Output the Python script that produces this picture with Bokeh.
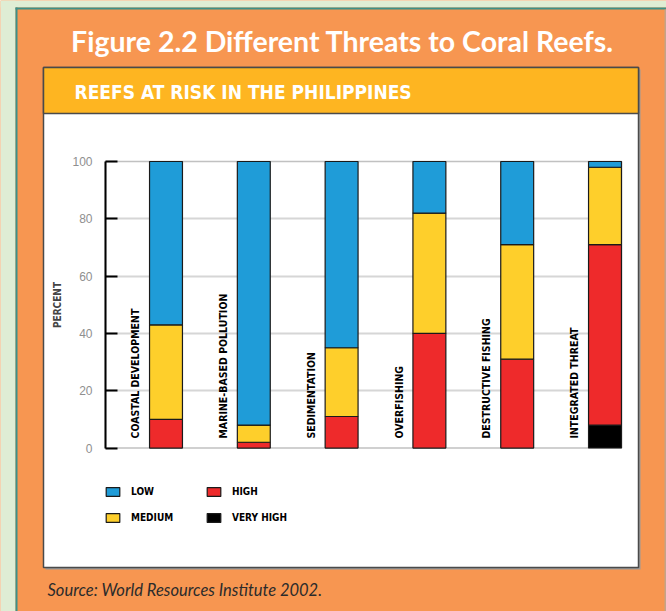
import math
from bokeh.plotting import figure
from bokeh.models import (ColumnDataSource, BoxAnnotation, Label, Legend, LegendItem,
                          Range1d, FixedTicker, LinearAxis, Grid)
from bokeh.core.properties import value
from bokeh.embed import file_html
from bokeh.resources import INLINE

# ---- data ----
categories = ["COASTAL DEVELOPMENT", "MARINE-BASED POLLUTION", "SEDIMENTATION",
              "OVERFISHING", "DESTRUCTIVE FISHING", "INTEGRATED THREAT"]
very_high = [0, 0, 0, 0, 0, 8]
high = [10, 2, 11, 40, 31, 63]
medium = [33, 6, 24, 42, 40, 27]
low = [57, 92, 65, 18, 29, 2]
levels = ["very_high", "high", "medium", "low"]
legend_labels = {"low": "LOW", "medium": "MEDIUM", "high": "HIGH", "very_high": "VERY HIGH"}
y_ticks = [0, 20, 40, 60, 80, 100]
grid_ticks = [20, 40, 60, 80]

title_text = "Figure 2.2 Different Threats to Coral Reefs."
subtitle_text = "REEFS AT RISK IN THE PHILIPPINES"
source_text = "Source: World Resources Institute 2002."
y_label = "PERCENT"

# ---- styles ----
COLORS = {"low": "#1f9cd8", "medium": "#fecf2b", "high": "#ee2a2b", "very_high": "#000000"}
ORANGE = "#f79651"
GREEN = "#dfedd4"
TEAL = "#3e9088"
BAND = "#feb521"
NARROW = "'Liberation Sans Narrow', 'DejaVu Sans Condensed', 'Arial Narrow', sans-serif"
TITLE_FONT = "Lato"

W, H = 666, 611
# page-pixel <-> data mapping (frame covers the whole page)
X0, SX = 165.5, 87.8        # pixel of first bar centre, pixels per category
Y0, SY = 447.5, 2.865       # pixel of 0 %, pixels per percent
def dx(px): return (px - X0) / SX
def dy(py): return (Y0 - py) / SY

xs = list(range(len(categories)))
src = ColumnDataSource(dict(x=xs, cat=categories, very_high=very_high, high=high,
                            medium=medium, low=low,
                            label_x=[x - 0.35 for x in xs],
                            label_y=[3.3] * len(xs)))

p = figure(width=W, height=H, output_backend="svg", toolbar_location=None,
           x_range=Range1d(dx(0), dx(W)), y_range=Range1d(dy(H), dy(0)),
           x_axis_location=None, y_axis_location=None, title_location=None,
           min_border=0)
p.outline_line_color = None
p.background_fill_color = ORANGE
p.border_fill_color = ORANGE
p.xgrid.visible = False
p.ygrid.visible = False

def quad(l, r, t, b, color, line_color=None, line_width=0):
    p.quad(left=dx(l), right=dx(r), top=dy(t), bottom=dy(b), fill_color=color,
           line_color=line_color, line_width=line_width, level="image")

quad(0, 15, 0, H, GREEN)
quad(0, W, 0, 7, GREEN)
quad(15, 17, 7, H, TEAL)
quad(15, W, 7, 9, TEAL)
quad(664, 666, 9, H, "#c4a48a")
quad(45, 640, 69, 569, "#9a9a9a")          # shadow
quad(43, 638, 67, 567, "white", line_color="#4a4a4a", line_width=1.5)
quad(43, 638, 67, 113, BAND, line_color="#4a4a4a", line_width=1.5)

p.add_layout(Label(x=dx(342), y=dy(40), text=title_text,
                   text_font=TITLE_FONT, text_font_style="bold", text_font_size="28.5px",
                   text_color="white", text_align="center", text_baseline="middle"))
p.add_layout(Label(x=dx(74), y=dy(91), text=subtitle_text,
                   text_font=NARROW, text_font_style="bold", text_font_size="19px",
                   text_color="white", text_align="left", text_baseline="middle"))
p.add_layout(Label(x=dx(47), y=dy(589), text=source_text,
                   text_font=TITLE_FONT, text_font_style="italic", text_font_size="16.5px",
                   text_color="#2b2b2b", text_align="left", text_baseline="middle"))

x_left, x_right = dx(105), dx(621)

# grid lines limited to the chart area
g = Grid(dimension=1, ticker=FixedTicker(ticks=grid_ticks),
         grid_line_color="#d6d6d6", grid_line_width=2)
if "cross_bounds" in Grid.properties():
    g.cross_bounds = (x_left, x_right)
    p.add_layout(g)
else:
    p.segment(x0=[x_left] * len(grid_ticks), x1=[x_right] * len(grid_ticks),
              y0=grid_ticks, y1=grid_ticks, line_color="#d6d6d6", line_width=2,
              level="underlay")

# chart area frame lines
p.add_layout(BoxAnnotation(left=x_left, right=x_right, bottom=0, top=100,
                           fill_alpha=0, line_color="#333333", line_width=1.5,
                           level="underlay"))

ax = LinearAxis(fixed_location=x_left, bounds=(0, 100),
                ticker=FixedTicker(ticks=y_ticks))
ax.axis_line_color = "black"
ax.axis_line_width = 2
ax.major_tick_in = 12
ax.major_tick_out = 0
ax.major_tick_line_color = "black"
ax.major_tick_line_width = 2
ax.minor_tick_line_color = None
ax.major_label_text_color = "#8f8f8f"
ax.major_label_text_font = "Liberation Sans"
ax.major_label_text_font_size = "12px"
ax.major_label_standoff = 13
ax.axis_label = y_label
ax.axis_label_text_font = NARROW
ax.axis_label_text_font_style = "bold"
ax.axis_label_text_font_size = "10px"
ax.axis_label_standoff = 6
p.add_layout(ax, "left")

renderers = p.vbar_stack(levels, x="x", width=0.375, source=src,
                         fill_color=[COLORS[k] for k in levels],
                         line_color="#1a1a1a", line_width=1.2)
rmap = dict(zip(levels, renderers))

p.text(x="label_x", y="label_y", text="cat", source=src, angle=math.pi / 2,
       text_font=value(NARROW), text_font_style="bold", text_font_size="10.5px",
       text_color="black", text_align="left", text_baseline="middle")

items = [LegendItem(label=legend_labels[k], renderers=[rmap[k]])
         for k in ["low", "medium", "high", "very_high"]]
legend = Legend(items=items, ncols=2, location=(104, 84),
                glyph_width=17, glyph_height=11, label_standoff=10,
                label_width=68, label_height=20, spacing=6, padding=0, margin=0,
                background_fill_alpha=0, border_line_alpha=0,
                label_text_font=NARROW, label_text_font_style="bold",
                label_text_font_size="10px", label_text_color="black")
p.add_layout(legend, "center")

open("out.html", "w").write(file_html(p, INLINE))
